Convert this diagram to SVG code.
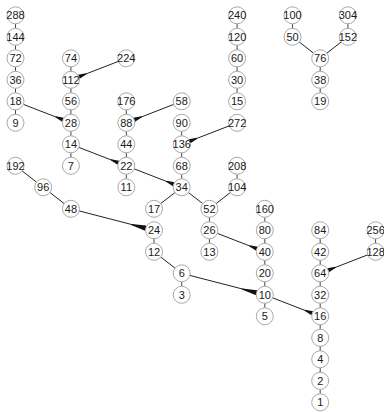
<svg xmlns="http://www.w3.org/2000/svg" width="384" height="412" viewBox="0 0 384 412">
<style>
.n circle{fill:#fff;stroke:#a8a8a8;stroke-width:1}
.n text{font-family:"Liberation Sans",Arial,sans-serif;font-size:11px;fill:#1a1a1a;text-anchor:middle;dominant-baseline:central}
.e{stroke:#222;stroke-width:1;fill:none}
.v{stroke:#444;stroke-width:1;fill:none}
.s{marker-end:url(#as)}
.b{marker-end:url(#ab)}
</style>
<defs>
<marker id="as" viewBox="0 -3 8 6" refX="8" refY="0" markerWidth="8" markerHeight="6" markerUnits="userSpaceOnUse" orient="auto"><path d="M0,-0.5L8,-2.2L8,2.2L0,0.5Z" fill="#111"/></marker>
<marker id="ab" viewBox="0 -3 15 6" refX="15" refY="0" markerWidth="15" markerHeight="6" markerUnits="userSpaceOnUse" orient="auto"><path d="M0,-0.5L15,-2.6L15,2.6L0,0.5Z" fill="#111"/></marker>
</defs>
<g id="connectors">
<path class="v" d="M15.5,23.8V28.3M15.5,45.3V49.8M15.5,66.8V71.3M15.5,88.3V92.8M15.5,109.8V114.3
M70.9,66.8V71.3M70.9,88.3V92.8M70.9,109.8V114.3M70.9,131.3V135.8M70.9,152.8V157.3
M126.3,109.8V114.3M126.3,131.3V135.8M126.3,152.8V157.3M126.3,174.3V178.8
M181.7,131.3V135.8M181.7,152.8V157.3M181.7,174.3V178.8M181.7,281.8V286.3
M237.1,23.8V28.3M237.1,45.3V49.8M237.1,66.8V71.3M237.1,88.3V92.8M237.1,174.3V178.8
M292.5,23.8V28.3M347.9,23.8V28.3
M320.2,66.8V71.3M320.2,88.3V92.8
M320.2,238.8V243.3M320.2,260.3V264.8M320.2,281.8V286.3M320.2,303.3V307.8M320.2,324.8V329.3M320.2,346.3V350.8M320.2,367.8V372.3M320.2,389.3V393.8
M154,238.8V243.3
M209.4,217.3V221.8M209.4,238.8V243.3
M264.8,217.3V221.8M264.8,238.8V243.3M264.8,260.3V264.8M264.8,281.8V286.3M264.8,303.3V307.8
M375.6,238.8V243.3"/>
<path class="e" d="M22.22,171.01L36.48,182.09M49.92,192.51L64.18,203.59M174.98,192.51L160.72,203.59M188.42,192.51L202.68,203.59M230.38,192.51L216.12,203.59M160.72,257.01L174.98,268.09M299.22,42.01L313.48,53.09M341.18,42.01L326.92,53.09"/>
<line class="e s" x1="118.38" y1="61.38" x2="78.82" y2="76.72"/>
<line class="e s" x1="23.42" y1="104.38" x2="62.98" y2="119.72"/>
<line class="e s" x1="173.78" y1="104.38" x2="134.22" y2="119.72"/>
<line class="e s" x1="229.18" y1="125.88" x2="189.62" y2="141.22"/>
<line class="e s" x1="78.82" y1="147.38" x2="118.38" y2="162.72"/>
<line class="e s" x1="134.22" y1="168.88" x2="173.78" y2="184.22"/>
<line class="e s" x1="217.32" y1="233.38" x2="256.88" y2="248.72"/>
<line class="e s" x1="272.72" y1="297.88" x2="312.28" y2="313.22"/>
<line class="e s" x1="367.68" y1="254.88" x2="328.12" y2="270.22"/>
<line class="e b" x1="79.13" y1="210.93" x2="145.77" y2="228.17"/>
<line class="e b" x1="189.93" y1="275.43" x2="256.57" y2="292.67"/>
</g>
<g class="n">
<g id="n288"><circle cx="15.5" cy="15.3" r="8.5"/><text x="15.5" y="15.3">288</text></g>
<g id="n144"><circle cx="15.5" cy="36.8" r="8.5"/><text x="15.5" y="36.8">144</text></g>
<g id="n72"><circle cx="15.5" cy="58.3" r="8.5"/><text x="15.5" y="58.3">72</text></g>
<g id="n36"><circle cx="15.5" cy="79.8" r="8.5"/><text x="15.5" y="79.8">36</text></g>
<g id="n18"><circle cx="15.5" cy="101.3" r="8.5"/><text x="15.5" y="101.3">18</text></g>
<g id="n9"><circle cx="15.5" cy="122.8" r="8.5"/><text x="15.5" y="122.8">9</text></g>
<g id="n74"><circle cx="70.9" cy="58.3" r="8.5"/><text x="70.9" y="58.3">74</text></g>
<g id="n112"><circle cx="70.9" cy="79.8" r="8.5"/><text x="70.9" y="79.8">112</text></g>
<g id="n56"><circle cx="70.9" cy="101.3" r="8.5"/><text x="70.9" y="101.3">56</text></g>
<g id="n28"><circle cx="70.9" cy="122.8" r="8.5"/><text x="70.9" y="122.8">28</text></g>
<g id="n14"><circle cx="70.9" cy="144.3" r="8.5"/><text x="70.9" y="144.3">14</text></g>
<g id="n7"><circle cx="70.9" cy="165.8" r="8.5"/><text x="70.9" y="165.8">7</text></g>
<g id="n224"><circle cx="126.3" cy="58.3" r="8.5"/><text x="126.3" y="58.3">224</text></g>
<g id="n176"><circle cx="126.3" cy="101.3" r="8.5"/><text x="126.3" y="101.3">176</text></g>
<g id="n88"><circle cx="126.3" cy="122.8" r="8.5"/><text x="126.3" y="122.8">88</text></g>
<g id="n44"><circle cx="126.3" cy="144.3" r="8.5"/><text x="126.3" y="144.3">44</text></g>
<g id="n22"><circle cx="126.3" cy="165.8" r="8.5"/><text x="126.3" y="165.8">22</text></g>
<g id="n11"><circle cx="126.3" cy="187.3" r="8.5"/><text x="126.3" y="187.3">11</text></g>
<g id="n58"><circle cx="181.7" cy="101.3" r="8.5"/><text x="181.7" y="101.3">58</text></g>
<g id="n90"><circle cx="181.7" cy="122.8" r="8.5"/><text x="181.7" y="122.8">90</text></g>
<g id="n136"><circle cx="181.7" cy="144.3" r="8.5"/><text x="181.7" y="144.3">136</text></g>
<g id="n68"><circle cx="181.7" cy="165.8" r="8.5"/><text x="181.7" y="165.8">68</text></g>
<g id="n34"><circle cx="181.7" cy="187.3" r="8.5"/><text x="181.7" y="187.3">34</text></g>
<g id="n240"><circle cx="237.1" cy="15.3" r="8.5"/><text x="237.1" y="15.3">240</text></g>
<g id="n120"><circle cx="237.1" cy="36.8" r="8.5"/><text x="237.1" y="36.8">120</text></g>
<g id="n60"><circle cx="237.1" cy="58.3" r="8.5"/><text x="237.1" y="58.3">60</text></g>
<g id="n30"><circle cx="237.1" cy="79.8" r="8.5"/><text x="237.1" y="79.8">30</text></g>
<g id="n15"><circle cx="237.1" cy="101.3" r="8.5"/><text x="237.1" y="101.3">15</text></g>
<g id="n272"><circle cx="237.1" cy="122.8" r="8.5"/><text x="237.1" y="122.8">272</text></g>
<g id="n100"><circle cx="292.5" cy="15.3" r="8.5"/><text x="292.5" y="15.3">100</text></g>
<g id="n50"><circle cx="292.5" cy="36.8" r="8.5"/><text x="292.5" y="36.8">50</text></g>
<g id="n304"><circle cx="347.9" cy="15.3" r="8.5"/><text x="347.9" y="15.3">304</text></g>
<g id="n152"><circle cx="347.9" cy="36.8" r="8.5"/><text x="347.9" y="36.8">152</text></g>
<g id="n76"><circle cx="320.2" cy="58.3" r="8.5"/><text x="320.2" y="58.3">76</text></g>
<g id="n38"><circle cx="320.2" cy="79.8" r="8.5"/><text x="320.2" y="79.8">38</text></g>
<g id="n19"><circle cx="320.2" cy="101.3" r="8.5"/><text x="320.2" y="101.3">19</text></g>
<g id="n192"><circle cx="15.5" cy="165.8" r="8.5"/><text x="15.5" y="165.8">192</text></g>
<g id="n96"><circle cx="43.2" cy="187.3" r="8.5"/><text x="43.2" y="187.3">96</text></g>
<g id="n48"><circle cx="70.9" cy="208.8" r="8.5"/><text x="70.9" y="208.8">48</text></g>
<g id="n208"><circle cx="237.1" cy="165.8" r="8.5"/><text x="237.1" y="165.8">208</text></g>
<g id="n104"><circle cx="237.1" cy="187.3" r="8.5"/><text x="237.1" y="187.3">104</text></g>
<g id="n17"><circle cx="154" cy="208.8" r="8.5"/><text x="154" y="208.8">17</text></g>
<g id="n52"><circle cx="209.4" cy="208.8" r="8.5"/><text x="209.4" y="208.8">52</text></g>
<g id="n24"><circle cx="154" cy="230.3" r="8.5"/><text x="154" y="230.3">24</text></g>
<g id="n26"><circle cx="209.4" cy="230.3" r="8.5"/><text x="209.4" y="230.3">26</text></g>
<g id="n12"><circle cx="154" cy="251.8" r="8.5"/><text x="154" y="251.8">12</text></g>
<g id="n13"><circle cx="209.4" cy="251.8" r="8.5"/><text x="209.4" y="251.8">13</text></g>
<g id="n6"><circle cx="181.7" cy="273.3" r="8.5"/><text x="181.7" y="273.3">6</text></g>
<g id="n3"><circle cx="181.7" cy="294.8" r="8.5"/><text x="181.7" y="294.8">3</text></g>
<g id="n160"><circle cx="264.8" cy="208.8" r="8.5"/><text x="264.8" y="208.8">160</text></g>
<g id="n80"><circle cx="264.8" cy="230.3" r="8.5"/><text x="264.8" y="230.3">80</text></g>
<g id="n40"><circle cx="264.8" cy="251.8" r="8.5"/><text x="264.8" y="251.8">40</text></g>
<g id="n20"><circle cx="264.8" cy="273.3" r="8.5"/><text x="264.8" y="273.3">20</text></g>
<g id="n10"><circle cx="264.8" cy="294.8" r="8.5"/><text x="264.8" y="294.8">10</text></g>
<g id="n5"><circle cx="264.8" cy="316.3" r="8.5"/><text x="264.8" y="316.3">5</text></g>
<g id="n84"><circle cx="320.2" cy="230.3" r="8.5"/><text x="320.2" y="230.3">84</text></g>
<g id="n42"><circle cx="320.2" cy="251.8" r="8.5"/><text x="320.2" y="251.8">42</text></g>
<g id="n64"><circle cx="320.2" cy="273.3" r="8.5"/><text x="320.2" y="273.3">64</text></g>
<g id="n32"><circle cx="320.2" cy="294.8" r="8.5"/><text x="320.2" y="294.8">32</text></g>
<g id="n16"><circle cx="320.2" cy="316.3" r="8.5"/><text x="320.2" y="316.3">16</text></g>
<g id="n8"><circle cx="320.2" cy="337.8" r="8.5"/><text x="320.2" y="337.8">8</text></g>
<g id="n4"><circle cx="320.2" cy="359.3" r="8.5"/><text x="320.2" y="359.3">4</text></g>
<g id="n2"><circle cx="320.2" cy="380.8" r="8.5"/><text x="320.2" y="380.8">2</text></g>
<g id="n1"><circle cx="320.2" cy="402.3" r="8.5"/><text x="320.2" y="402.3">1</text></g>
<g id="n256"><circle cx="375.6" cy="230.3" r="8.5"/><text x="375.6" y="230.3">256</text></g>
<g id="n128"><circle cx="375.6" cy="251.8" r="8.5"/><text x="375.6" y="251.8">128</text></g>
</g>
</svg>
